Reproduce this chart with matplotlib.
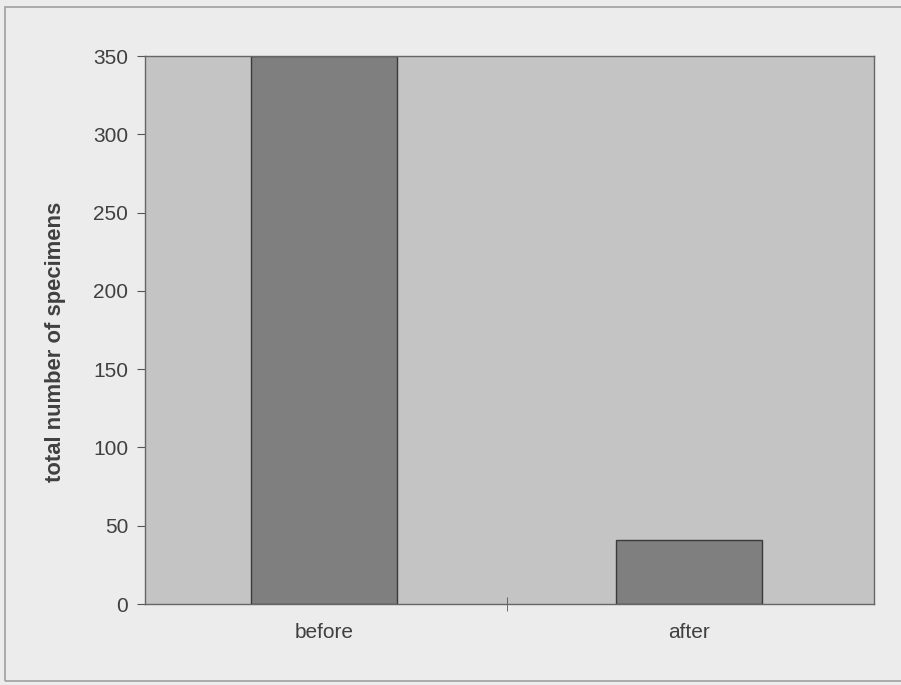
import matplotlib.pyplot as plt
from matplotlib.patches import Rectangle

# datos
categorias = ["before", "after"]
especimenes = [350, 41]
ticks_y = [0, 50, 100, 150, 200, 250, 300, 350]

plt.rcParams['font.family'] = ['Liberation Sans', 'DejaVu Sans']

fig = plt.figure(figsize=(9.01, 6.85), dpi=100)
fig.patch.set_facecolor('#ececec')

# marco exterior (solo se ve arriba y a la izquierda)
fig.patches.append(Rectangle((5 / 901, 4 / 685), 1.2, 1 - 11 / 685,
                             transform=fig.transFigure, fill=False,
                             edgecolor='#a0a0a0', linewidth=1.2))

ax = fig.add_axes([145 / 901, 1 - 604 / 685, 729 / 901, 548 / 685])
ax.set_facecolor('#c4c4c4')

pos = range(len(categorias))
ax.bar(pos, especimenes, width=0.4, color='#7f7f7f', edgecolor='#3a3a3a', linewidth=1.0)

ax.set_xlim(-0.492, len(categorias) - 0.492)
ax.set_ylim(0, 350)
ax.set_yticks(ticks_y)
ax.set_xticks(list(pos))
ax.set_xticklabels(categorias)
ax.set_xticks([0.5], minor=True)

ax.tick_params(axis='y', direction='out', length=6, color='#555555',
               labelsize=15, labelcolor='#404040', pad=6)
ax.tick_params(axis='x', which='major', length=0, labelsize=15,
               labelcolor='#404040', pad=14)
ax.tick_params(axis='x', which='minor', direction='inout', length=10,
               color='#555555')

for lado in ['left', 'bottom', 'right', 'top']:
    ax.spines[lado].set_color('#666666')
    ax.spines[lado].set_linewidth(1.0)

ax.set_ylabel("total number of specimens", fontsize=15.8, fontweight='bold',
              color='#404040')
ax.yaxis.set_label_coords(-0.109, 0.478)

fig.savefig("out.png", dpi=100, facecolor=fig.get_facecolor())
